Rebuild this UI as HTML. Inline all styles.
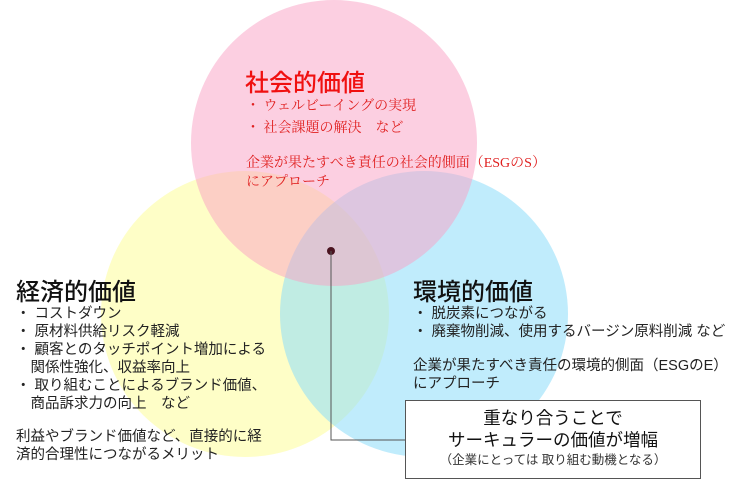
<!DOCTYPE html>
<html><head><meta charset="utf-8"><style>
body{margin:0;width:737px;height:481px;background:#fff;position:relative;overflow:hidden;font-family:"Liberation Sans","Noto Sans CJK JP",sans-serif}
.c{position:absolute;border-radius:50%}
.t{position:absolute;white-space:nowrap;font-size:14.5px;line-height:18px;color:#222}
.h{position:absolute;white-space:nowrap;font-size:24px;line-height:26px;font-weight:500;color:#111}
.s{font-family:"Liberation Serif","Noto Serif CJK SC",serif;font-size:14px}
</style></head><body>
<div class="c" style="left:101px;top:171px;width:288px;height:286px;background:rgba(253,253,180,0.75)"></div>
<div class="c" style="left:280px;top:171px;width:288px;height:286px;background:rgba(140,220,250,0.55)"></div>
<div class="c" style="left:191px;top:0;width:286px;height:286px;background:rgba(250,160,195,0.5)"></div>

<div class="h" style="left:245px;top:71px;color:#f01010">社会的価値</div>
<div class="t s" style="left:246px;top:96px;color:#e02020;line-height:22px">・ ウェルビーイングの実現<br>・ 社会課題の解決　など</div>
<div class="t s" style="left:246px;top:154px;color:#e02020;line-height:19px">企業が果たすべき責任の社会的側面（ESGのS）<br>にアプローチ</div>

<div class="h" style="left:16px;top:280px">経済的価値</div>
<div class="t" style="left:16px;top:305px">・ コストダウン<br>・ 原材料供給リスク軽減<br>・ 顧客とのタッチポイント増加による<br>　関係性強化、収益率向上<br>・ 取り組むことによるブランド価値、<br>　商品訴求力の向上　など</div>
<div class="t" style="left:16px;top:428px">利益やブランド価値など、直接的に経<br>済的合理性につながるメリット</div>

<div class="h" style="left:413px;top:280px">環境的価値</div>
<div class="t" style="left:413px;top:305px">・ 脱炭素につながる<br>・ 廃棄物削減、使用するバージン原料削減 など</div>
<div class="t" style="left:413px;top:357px">企業が果たすべき責任の環境的側面（ESGのE）<br>にアプローチ</div>

<svg style="position:absolute;left:0;top:0" width="737" height="481">
<circle cx="331" cy="251" r="4" fill="#4a1420"/>
<polyline points="331,251 331,440 406,440" fill="none" stroke="#555" stroke-width="1"/>
<rect x="405.5" y="400.5" width="295" height="78" fill="#fff" stroke="#555" stroke-width="1"/>
</svg>
<div style="position:absolute;left:405px;top:407px;width:296px;text-align:center;color:#111">
<div style="font-size:17.5px;line-height:22px">重なり合うことで<br>サーキュラーの価値が増幅</div>
<div style="font-size:12.5px;line-height:18px;color:#333">（企業にとっては 取り組む動機となる）</div>
</div>
</body></html>
